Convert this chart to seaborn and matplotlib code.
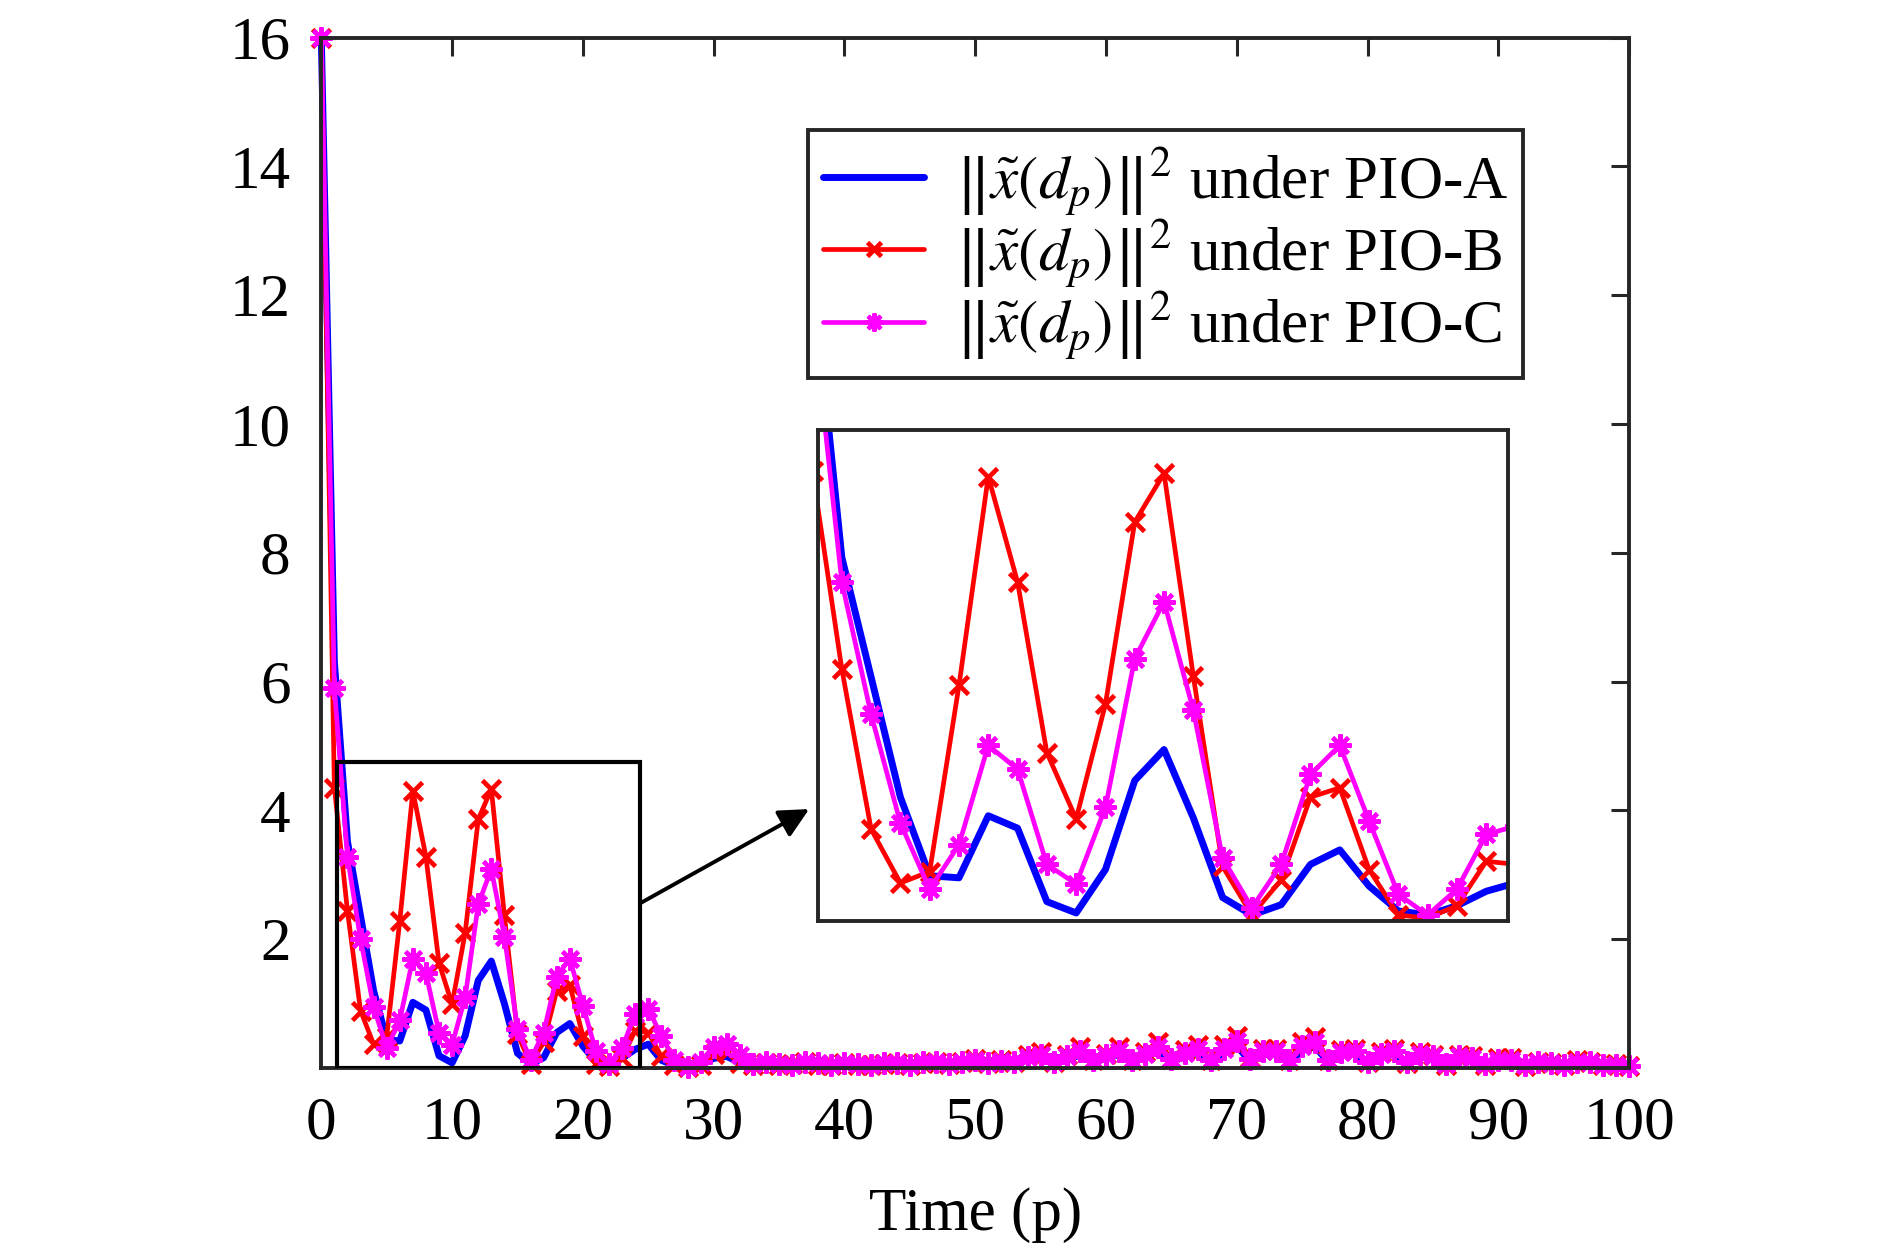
import numpy as np
import pandas as pd
import seaborn as sns
import matplotlib
matplotlib.use("Agg")
import matplotlib.pyplot as plt
from matplotlib.patches import Rectangle

# ---------------- data ----------------
time_p = list(range(0, 101))

err_A = [16, 6.30, 3.52, 2.36, 1.20, 0.44, 0.42, 1.02, 0.90, 0.19,
         0.08, 0.50, 1.36, 1.66, 1.00, 0.23, 0.06, 0.16, 0.55, 0.69,
         0.34, 0.10, 0.06, 0.15, 0.29, 0.37, 0.12, 0.04, 0.02, 0.05,
         0.15, 0.18, 0.08, 0.04, 0.06, 0.04, 0.04, 0.07, 0.05, 0.03,
         0.06, 0.04, 0.03, 0.05, 0.06, 0.04, 0.07, 0.08, 0.05, 0.08,
         0.09, 0.06, 0.08, 0.08, 0.13, 0.15, 0.08, 0.13, 0.20, 0.09,
         0.15, 0.21, 0.09, 0.17, 0.26, 0.11, 0.19, 0.24, 0.09, 0.24,
         0.34, 0.11, 0.21, 0.22, 0.09, 0.27, 0.33, 0.09, 0.20, 0.22,
         0.08, 0.18, 0.21, 0.07, 0.18, 0.14, 0.05, 0.14, 0.13, 0.05,
         0.10, 0.10, 0.03, 0.07, 0.06, 0.04, 0.08, 0.07, 0.03, 0.04,
         0.02]

err_B = [16, 4.35, 2.44, 0.89, 0.37, 0.48, 2.28, 4.30, 3.28, 1.63,
         0.99, 2.10, 3.86, 4.33, 2.37, 0.53, 0.06, 0.40, 1.20, 1.29,
         0.50, 0.06, 0.03, 0.15, 0.58, 0.55, 0.18, 0.05, 0.02, 0.05,
         0.22, 0.25, 0.08, 0.05, 0.08, 0.04, 0.06, 0.09, 0.05, 0.04,
         0.07, 0.05, 0.04, 0.06, 0.08, 0.05, 0.08, 0.10, 0.06, 0.10,
         0.14, 0.08, 0.12, 0.10, 0.20, 0.25, 0.10, 0.20, 0.32, 0.12,
         0.22, 0.32, 0.12, 0.25, 0.40, 0.14, 0.28, 0.35, 0.12, 0.35,
         0.50, 0.15, 0.30, 0.30, 0.12, 0.40, 0.48, 0.12, 0.28, 0.30,
         0.10, 0.25, 0.30, 0.08, 0.25, 0.20, 0.05, 0.20, 0.18, 0.05,
         0.15, 0.15, 0.03, 0.10, 0.08, 0.05, 0.12, 0.10, 0.04, 0.06,
         0.03]

err_C = [16, 5.90, 3.28, 2.00, 0.95, 0.31, 0.74, 1.70, 1.47, 0.55,
         0.36, 1.10, 2.54, 3.09, 2.04, 0.61, 0.13, 0.55, 1.42, 1.70,
         0.97, 0.26, 0.06, 0.31, 0.84, 0.92, 0.50, 0.12, 0.02, 0.10,
         0.33, 0.38, 0.20, 0.06, 0.10, 0.06, 0.05, 0.10, 0.07, 0.04,
         0.08, 0.06, 0.04, 0.07, 0.08, 0.05, 0.09, 0.10, 0.06, 0.10,
         0.12, 0.08, 0.11, 0.10, 0.17, 0.20, 0.10, 0.18, 0.26, 0.12,
         0.20, 0.27, 0.12, 0.22, 0.33, 0.14, 0.24, 0.30, 0.12, 0.30,
         0.42, 0.14, 0.26, 0.27, 0.12, 0.34, 0.40, 0.12, 0.25, 0.27,
         0.10, 0.22, 0.26, 0.09, 0.22, 0.18, 0.06, 0.18, 0.16, 0.06,
         0.13, 0.13, 0.04, 0.09, 0.08, 0.05, 0.10, 0.09, 0.04, 0.05,
         0.03]

labels = [r"$\left\|\tilde{x}(d_p)\right\|^2$ under PIO-A",
          r"$\left\|\tilde{x}(d_p)\right\|^2$ under PIO-B",
          r"$\left\|\tilde{x}(d_p)\right\|^2$ under PIO-C"]
x_ticks = [0, 10, 20, 30, 40, 50, 60, 70, 80, 90, 100]
y_ticks = [2, 4, 6, 8, 10, 12, 14, 16]
x_label = "Time (p)"

# ---------------- style ----------------
sns.set_style("white")
plt.rcParams["font.family"] = ["Liberation Serif", "DejaVu Serif"]
plt.rcParams["mathtext.fontset"] = "stix"
plt.rcParams["text.color"] = "black"
plt.rcParams["axes.labelcolor"] = "black"
plt.rcParams["xtick.color"] = "black"
plt.rcParams["ytick.color"] = "black"
FS = 44
SPINE = "#262626"

df = pd.DataFrame({"p": time_p, "A": err_A, "B": err_B, "C": err_C})

styles = [
    dict(col="A", color=(0, 0, 1), lw=5.0, marker=None, ms=0, mew=0),
    dict(col="B", color=(1, 0, 0), lw=3.4, marker="x", ms=13, mew=3.4),
    dict(col="C", color=(1, 0, 1), lw=3.4, marker=(8, 2, 0), ms=16, mew=3.0),
]

fig = plt.figure(figsize=(18.9, 12.5), dpi=100)
ax = fig.add_axes([0.170, 0.1456, 0.692, 0.8244])


def draw(axis, with_label, clip):
    for st, lab in zip(styles, labels):
        kw = dict(data=df, x="p", y=st["col"], ax=axis, color=st["color"],
                  linewidth=st["lw"], label=lab if with_label else None,
                  clip_on=clip)
        if st["marker"] is not None:
            kw.update(marker=st["marker"], markersize=st["ms"],
                      markeredgewidth=st["mew"], markeredgecolor=st["color"],
                      markerfacecolor=st["color"])
        sns.lineplot(**kw)


draw(ax, True, False)
ax.set_xlim(0, 100)
ax.set_ylim(0, 16)
ax.set_xticks(x_ticks)
ax.set_yticks(y_ticks)
ax.set_xlabel(x_label, fontsize=FS, labelpad=26)
ax.set_ylabel("")
ax.tick_params(axis="both", direction="in", length=13, width=2.2,
               color=SPINE, labelcolor="black", labelsize=FS,
               top=True, right=True)
ax.tick_params(axis="x", pad=20)
ax.tick_params(axis="y", pad=22)
for s in ax.spines.values():
    s.set_linewidth(2.8)
    s.set_color(SPINE)
    s.set_visible(True)

# zoom rectangle
zx0, zx1, zy0, zy1 = 1.2, 24.4, 0.0, 4.75
ax.add_patch(Rectangle((zx0, zy0), zx1 - zx0, zy1 - zy0, fill=False,
                       edgecolor="black", linewidth=3.0, zorder=5))

# arrow
ax.annotate("", xy=(37.3, 4.02), xytext=(zx1, 2.56),
            arrowprops=dict(arrowstyle="-|>", color="black", lw=2.8,
                            mutation_scale=45, shrinkA=0, shrinkB=0),
            zorder=6)

# legend
leg = ax.legend(loc="upper right", bbox_to_anchor=(0.806, 0.896),
                bbox_transform=fig.transFigure, fontsize=FS, frameon=True,
                fancybox=False, framealpha=1, edgecolor=SPINE,
                handlelength=1.65, handletextpad=0.5, labelspacing=0.0,
                borderpad=0.25, borderaxespad=0)
leg.get_frame().set_linewidth(2.8)
for t in leg.get_texts():
    t.set_color("black")
for h, ms in zip(leg.legend_handles, [0, 10, 13]):
    try:
        h.set_markersize(ms)
    except Exception:
        pass

# inset
axins = fig.add_axes([0.433, 0.263, 0.365, 0.393])
draw(axins, False, True)
axins.set_xlim(1.2, 24.75)
axins.set_ylim(0, 4.75)
axins.set_xticks([])
axins.set_yticks([])
axins.set_xlabel("")
axins.set_ylabel("")
for s in axins.spines.values():
    s.set_linewidth(2.8)
    s.set_color(SPINE)
    s.set_visible(True)
if axins.get_legend() is not None:
    axins.get_legend().remove()

fig.savefig("out.png", dpi=100, facecolor="white")
